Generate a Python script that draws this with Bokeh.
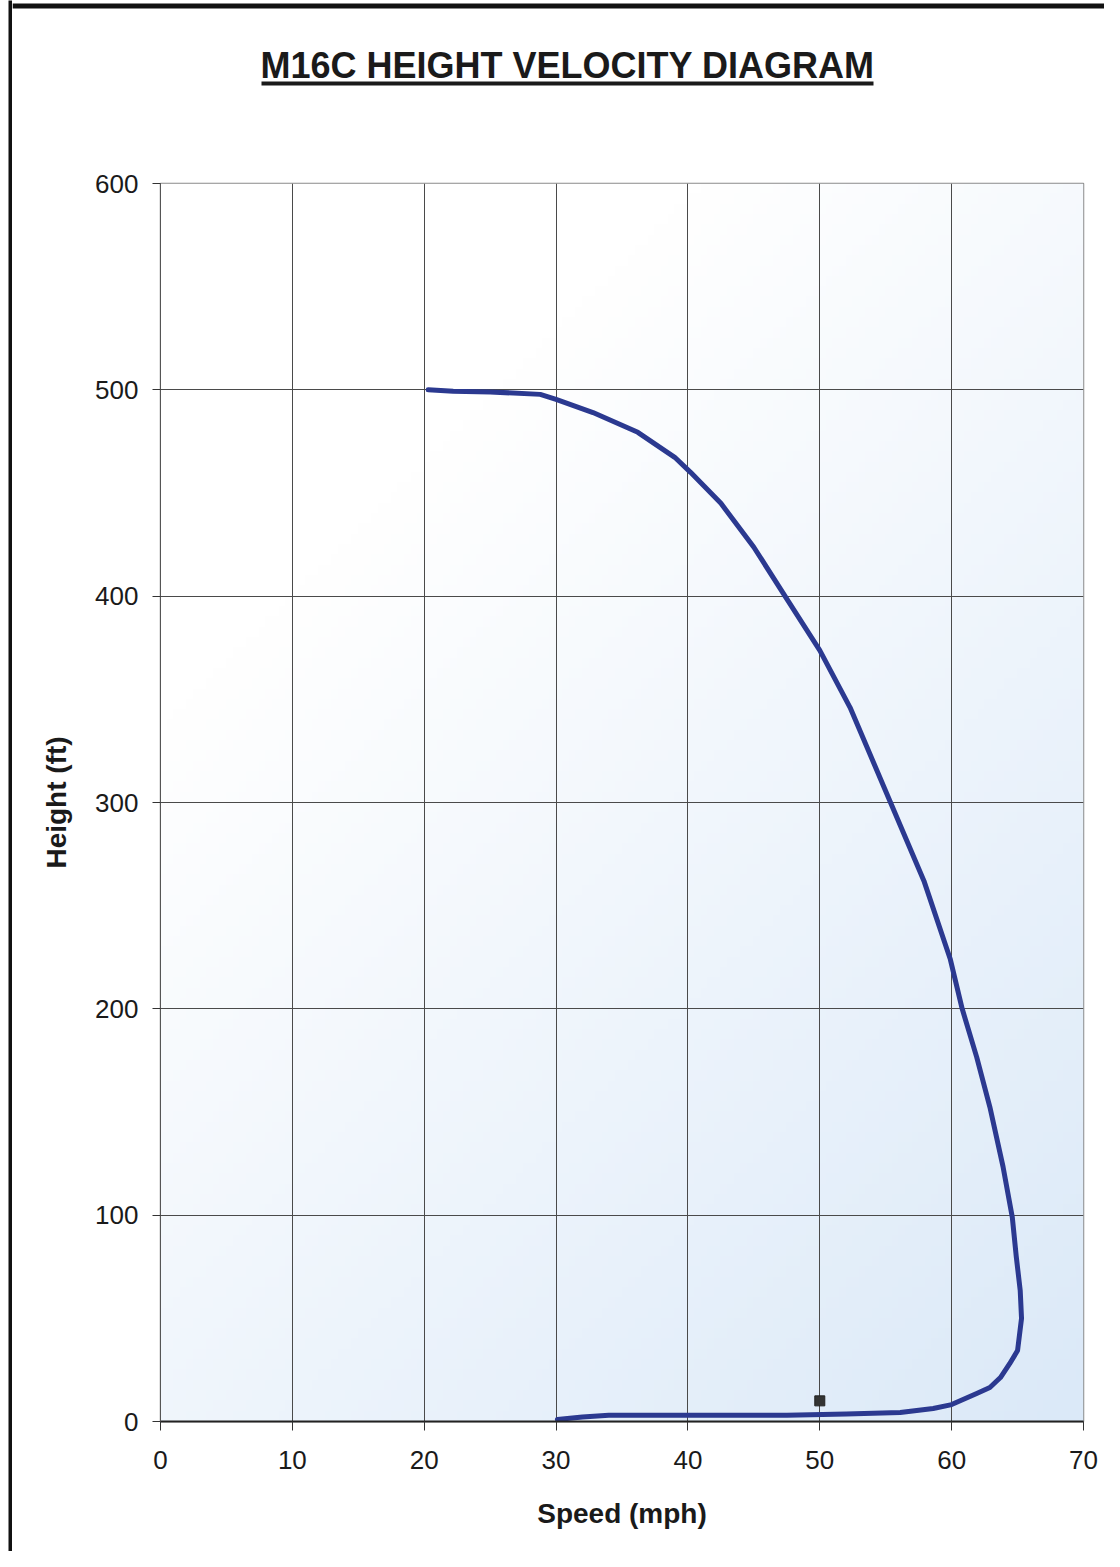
import numpy as np
from bokeh.plotting import figure
from bokeh.layouts import row, column
from bokeh.models import FixedTicker, Range1d
from bokeh.core.properties import value
from bokeh.embed import file_html
from bokeh.resources import INLINE

# ---- data ----
speed_mph = [20.3, 22.2, 25.0, 28.8, 30.0, 32.8, 36.2, 39.0, 40.2, 42.5, 45.0, 47.4,
             50.0, 52.3, 55.3, 57.9, 59.9, 60.8, 61.9, 62.9, 63.9, 64.6, 64.9, 65.2,
             65.3, 65.0, 64.4, 63.7, 62.9, 61.9, 60.0, 58.6, 56.1, 52.0, 47.5, 42.0,
             38.0, 34.0, 32.0, 30.1]
height_ft = [500, 499.3, 499, 497.8, 495.4, 489, 479.4, 467.3, 460, 445, 423.7, 399.7,
             373.7, 346, 301, 262, 224, 200, 176.6, 152.4, 123.4, 99, 80, 63.5,
             50, 34.4, 28.0, 21.3, 16.5, 13.6, 8.2, 6.3, 4.4, 3.6, 3.0, 3.0,
             3.0, 3.0, 2.2, 1.0]
marker_speed = [50]
marker_height = [10]
x_ticks = [0, 10, 20, 30, 40, 50, 60, 70]
y_ticks = [0, 100, 200, 300, 400, 500, 600]
title_text = "M16C  HEIGHT VELOCITY DIAGRAM"
x_label = "Speed (mph)"
y_label = "Height (ft)"

FONT = "Liberation Sans"
TOTAL_W, TOTAL_H = 1104, 1551
PAD, BORDER = 8, 4
WC = TOTAL_W - PAD - BORDER          # width of the chart column
HT = 120                              # height of the title strip
HM = TOTAL_H - HT                     # height of the main figure
ML, MR, MT, MB = 148, 21, 63, 130


def blank(w, h, fill):
    f = figure(width=w, height=h, output_backend="svg", toolbar_location=None,
               x_axis_type=None, y_axis_type=None, min_border=0,
               background_fill_color=fill, border_fill_color=fill)
    f.outline_line_color = None
    f.grid.visible = False
    f.frame_align = False
    return f


# left page margin and scan border strip
pad_fig = blank(PAD, TOTAL_H, "white")
border_fig = blank(BORDER, TOTAL_H, "#111111")

# title strip (pixel coordinates, y downward)
tf = blank(WC, HT, "white")
tf.x_range = Range1d(0, WC)
tf.y_range = Range1d(HT, 0)
tf.quad(left=[0], right=[WC], top=[3], bottom=[8], fill_color="#111111", line_color=None)
tf.text(x=[560], y=[65], text=[title_text], text_font=value(FONT), text_font_size="36px",
        text_font_style="bold", text_color="#1a1a1a", text_align="center",
        text_baseline="alphabetic")
tf.quad(left=[249], right=[861], top=[81], bottom=[85], fill_color="#1a1a1a", line_color=None)

# main chart
p = figure(width=WC, height=HM, output_backend="svg", toolbar_location=None,
           x_range=Range1d(0, 70), y_range=Range1d(0, 600),
           min_border_left=ML, min_border_right=MR, min_border_top=MT, min_border_bottom=MB,
           background_fill_color="white", border_fill_color="white")
p.frame_align = False

# background gradient (white top-left -> light blue bottom-right)
nx, ny = 140, 120
xs = np.linspace(0, 1, nx)
ys = np.linspace(0, 1, ny)
XX, YY = np.meshgrid(xs, ys)
t = np.clip((0.6 * XX + 0.8 * (1 - YY) - 0.35) / 1.05, 0, 1)
c0 = np.array([255, 255, 255])
c1 = np.array([219, 233, 248])
img = np.zeros((ny, nx), dtype=np.uint32)
view = img.view(dtype=np.uint8).reshape((ny, nx, 4))
for k in range(3):
    view[:, :, k] = (c0[k] * (1 - t) + c1[k] * t).astype(np.uint8)
view[:, :, 3] = 255
p.image_rgba(image=[img], x=0, y=0, dw=70, dh=600, level="image")

p.line(speed_mph, height_ft, line_color="#2b3990", line_width=5, line_join="round", line_cap="round")
p.scatter(marker_speed, marker_height, marker="square", size=10, fill_color="#333333", line_color="#222222")

# grid
for g in (p.xgrid[0], p.ygrid[0]):
    g.grid_line_color = "#4a4a4a"
    g.grid_line_width = 1
p.xgrid[0].ticker = FixedTicker(ticks=x_ticks)
p.ygrid[0].ticker = FixedTicker(ticks=y_ticks)

p.outline_line_color = "#8a8a8a"
p.outline_line_width = 1.5

# axes
xa = p.xaxis[0]
ya = p.yaxis[0]
xa.ticker = FixedTicker(ticks=x_ticks)
ya.ticker = FixedTicker(ticks=y_ticks)
for a in (xa, ya):
    a.major_tick_in = 0
    a.minor_tick_line_color = None
    a.major_label_text_font = FONT
    a.major_label_text_font_size = "26px"
    a.major_label_text_color = "#1a1a1a"
    a.axis_label_text_font = FONT
    a.axis_label_text_font_size = "28px"
    a.axis_label_text_font_style = "bold"
    a.axis_label_text_color = "#1a1a1a"
    a.major_tick_line_color = "#333333"
xa.axis_label = x_label
ya.axis_label = y_label
xa.major_tick_out = 9
ya.major_tick_out = 8
xa.axis_line_color = "#222222"
xa.axis_line_width = 2
ya.axis_line_color = "#555555"
xa.major_label_standoff = 20
ya.major_label_standoff = 14
xa.axis_label_standoff = 26
ya.axis_label_standoff = 20

layout = row(pad_fig, border_fig, column(tf, p, spacing=0), spacing=0)
open("out.html", "w").write(file_html(layout, INLINE))
